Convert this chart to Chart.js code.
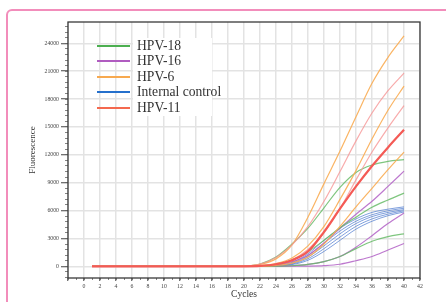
<!DOCTYPE html>
<html lang="en">

<head>
  <meta charset="UTF-8">
  <title>HPV amplification curves</title>
  <script src="https://cdn.jsdelivr.net/npm/chart.js"></script>
  <style>
    html, body { margin: 0; padding: 0; background: #fff; width: 446px; height: 302px; overflow: hidden; }
    .card { position: absolute; left: 6px; top: 9px; width: 470px; height: 330px; border: 2px solid #f28dbb; border-radius: 6px; box-sizing: border-box; }
    #ampChart { position: absolute; left: 0; top: 0; }
    .legend-bg { position: absolute; left: 133px; top: 38px; width: 79px; height: 78px; background: #fff; }
    .legend-row { position: absolute; left: 97px; height: 16px; line-height: 16px; font-family: 'Liberation Serif', 'Times New Roman', serif; font-size: 13.6px; color: #333; white-space: nowrap; }
    .legend-row i { position: absolute; left: 0; top: 7px; width: 33px; height: 2px; }
    .legend-row span { position: absolute; left: 40px; top: 0; }
  </style>
</head>

<body>
  <div class="card"></div>
  <canvas id="ampChart" width="446" height="302"></canvas>
  <div class="legend-bg"></div>
  <div id="legend"></div>

  <script>
    const cycles = [1, 18, 20, 22, 24, 26, 28, 30, 32, 34, 36, 38, 40];

    // HPV-11 (main curve + two lighter replicates)
    const hpv11Main = [0, 0, 0, 40, 220, 650, 1600, 3700, 6200, 8600, 10800, 12800, 14700];
    const hpv11RepA = [0, 0, 30, 250, 950, 2300, 4300, 7000, 10200, 13500, 16500, 18900, 20800];
    const hpv11RepB = [0, 0, 0, 60, 200, 700, 1800, 3600, 6200, 9300, 12300, 14900, 17300];

    // HPV-6
    const hpv6A = [0, 0, 20, 200, 800, 2300, 5300, 8900, 12400, 16100, 19700, 22500, 24800];
    const hpv6B = [0, 0, 0, 80, 300, 900, 2200, 4300, 7200, 10300, 13700, 16800, 19400];
    const hpv6C = [0, 0, 0, 20, 100, 350, 1000, 2400, 4300, 6400, 8400, 10400, 12300];

    // HPV-18
    const hpv18A = [0, 0, 30, 250, 1000, 2400, 4100, 6300, 8500, 10100, 10900, 11300, 11480];
    const hpv18B = [0, 0, 0, 50, 200, 680, 1570, 2800, 4150, 5290, 6360, 7140, 7880];
    const hpv18C = [0, 0, 0, 0, 20, 60, 200, 500, 1050, 1900, 2700, 3200, 3500];

    // HPV-16
    const hpv16A = [0, 0, 0, 30, 150, 500, 1200, 2500, 4100, 5600, 7000, 8600, 10240];
    const hpv16B = [0, 0, 0, 0, 20, 60, 200, 500, 1050, 2050, 3300, 4600, 5750];
    const hpv16C = [0, 0, 0, 0, 0, 10, 20, 70, 220, 600, 1050, 1750, 2450];

    // Internal control
    const icA = [0, 0, 0, 20, 120, 420, 1350, 2800, 4100, 5100, 5800, 6150, 6400];
    const icB = [0, 0, 0, 15, 100, 350, 1150, 2500, 3800, 4850, 5550, 5980, 6250];
    const icC = [0, 0, 0, 10, 80, 300, 1000, 2200, 3500, 4600, 5350, 5800, 6100];
    const icD = [0, 0, 0, 10, 60, 240, 820, 1900, 3150, 4300, 5100, 5620, 5980];
    const icE = [0, 0, 0, 5, 40, 180, 650, 1600, 2800, 4000, 4850, 5450, 5850];

    const yTicks = [0, 3000, 6000, 9000, 12000, 15000, 18000, 21000, 24000];
    const legendNames = ['HPV-18', 'HPV-16', 'HPV-6', 'Internal control', 'HPV-11'];
    const legendColors = ['#4caf50', '#b05cc0', '#f7a94f', '#2570cc', '#f4694f'];
    const legendTops = [38, 53, 69, 84, 100];

    const serif = "'Liberation Serif', 'Times New Roman', serif";
    const yMin = -1260, yMax = 26300;

    const datasets = [];
    function addCurve(values, color, width) {
      datasets.push({
        data: values.map((v, i) => ({ x: cycles[i], y: v })),
        borderColor: color,
        borderWidth: width,
        pointRadius: 0,
        fill: false,
        cubicInterpolationMode: 'monotone'
      });
    }

    // first added is drawn on top
    addCurve(hpv11Main, '#f45a55', 2.2);
    addCurve(hpv11RepA, 'rgba(246,150,150,0.8)', 1.2);
    addCurve(hpv11RepB, 'rgba(246,150,150,0.8)', 1.2);
    [hpv6A, hpv6B, hpv6C].forEach(v => addCurve(v, 'rgba(250,172,82,0.9)', 1.2));
    [hpv18A, hpv18B, hpv18C].forEach(v => addCurve(v, 'rgba(104,188,104,0.85)', 1.2));
    [hpv16A, hpv16B, hpv16C].forEach(v => addCurve(v, 'rgba(178,96,198,0.85)', 1.2));
    [icA, icB, icC, icD, icE].forEach(v => addCurve(v, 'rgba(86,128,210,0.75)', 1));

    const framePlugin = {
      id: 'frame',
      afterDatasetsDraw(chart) {
        const { ctx, chartArea: a } = chart;
        ctx.save();
        ctx.strokeStyle = '#3a3a3a';
        ctx.lineWidth = 1.3;
        ctx.strokeRect(a.left, a.top, a.right - a.left, a.bottom - a.top);
        ctx.restore();
      }
    };

    new Chart(document.getElementById('ampChart'), {
      type: 'line',
      data: { datasets },
      options: {
        responsive: false,
        animation: false,
        layout: { padding: { left: 0, top: 22, right: 26, bottom: 0 } },
        plugins: { legend: { display: false }, tooltip: { enabled: false } },
        scales: {
          x: {
            type: 'linear', position: 'bottom', weight: 1, min: -2, max: 42,
            ticks: { stepSize: 2, padding: 2, color: '#444', font: { family: serif, size: 5.8 }, callback: v => v < 0 ? '' : v },
            grid: { color: '#e3e3e3', lineWidth: 1.5, tickLength: 3, tickColor: '#444', tickWidth: 1 },
            border: { display: false },
            title: { display: true, text: 'Cycles', color: '#333', font: { family: serif, size: 9.5 }, padding: { top: 0, bottom: 2 } },
            afterFit: s => { s.height = 24; }
          },
          xMinor: {
            type: 'linear', position: 'bottom', weight: 0, min: -2, max: 42,
            ticks: { stepSize: 1, display: false },
            grid: { drawOnChartArea: false, tickLength: 2, tickColor: '#666', tickWidth: 0.8 },
            border: { display: false },
            afterFit: s => { s.height = 0; }
          },
          y: {
            type: 'linear', position: 'left', weight: 1, min: yMin, max: yMax,
            afterBuildTicks: s => { s.ticks = yTicks.map(v => ({ value: v })); },
            ticks: { padding: 2, color: '#444', font: { family: serif, size: 5.8 }, callback: v => String(v) },
            grid: { color: '#e3e3e3', lineWidth: 1.5, tickLength: 7, tickColor: '#444', tickWidth: 1 },
            border: { display: false },
            title: { display: true, text: 'Fluorescence', color: '#333', font: { family: serif, size: 9 }, padding: { top: 27, bottom: 0 } },
            afterFit: s => { s.width = 68; }
          },
          yMinor: {
            type: 'linear', position: 'left', weight: 0, min: yMin, max: yMax,
            afterBuildTicks: s => {
              const t = [];
              for (let v = -1200; v <= yMax; v += 600) t.push({ value: v });
              s.ticks = t;
            },
            ticks: { display: false },
            grid: { drawOnChartArea: false, tickLength: 3, tickColor: '#666', tickWidth: 0.8 },
            border: { display: false },
            afterFit: s => { s.width = 0; }
          }
        }
      },
      plugins: [framePlugin]
    });

    document.getElementById('legend').innerHTML = legendNames.map((name, i) => `
      <div class="legend-row" style="top:${legendTops[i]}px;">
        <i style="background:${legendColors[i]};"></i><span>${name}</span>
      </div>`).join('');
  </script>
</body>

</html>
